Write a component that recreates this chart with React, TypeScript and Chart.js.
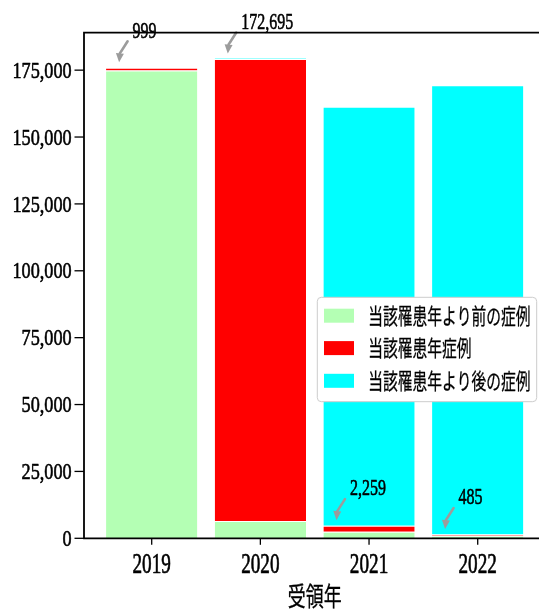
import React, { useEffect, useRef } from "react";
import { Chart, registerables } from "chart.js";

Chart.register(...registerables);

// ---- data ----
const YEARS = ["2019", "2020", "2021", "2022"];
const LABELS = ["当該罹患年より前の症例", "当該罹患年症例", "当該罹患年より後の症例"];
const BEFORE = [174900, 6465, 2466, 930];
const SAME = [999, 172695, 2259, 485];
const AFTER = [0, 300, 156560, 167985];
const Y_TICKS = [0, 25000, 50000, 75000, 100000, 125000, 150000, 175000];
const COLORS = ["rgb(180,255,180)", "#ff0000", "#00ffff"];
const X_TITLE = "受領年";

const SERIF = "'Liberation Serif', 'Times New Roman', serif";
const CJK = "'Noto Sans CJK JP', 'Noto Sans CJK SC', sans-serif";

function sText(
  ctx: CanvasRenderingContext2D,
  text: string,
  x: number,
  y: number,
  font: string,
  sx: number,
  align: CanvasTextAlign,
  baseline: CanvasTextBaseline,
  weight = 0
) {
  ctx.save();
  ctx.translate(x, y);
  ctx.scale(sx, 1);
  ctx.font = font;
  ctx.fillStyle = "#000";
  ctx.textAlign = align;
  ctx.textBaseline = baseline;
  ctx.fillText(text, 0, 0);
  if (weight > 0) {
    ctx.strokeStyle = "#000";
    ctx.lineWidth = weight;
    ctx.lineJoin = "round";
    ctx.strokeText(text, 0, 0);
  }
  ctx.restore();
}

const fmt = (v: number) => v.toLocaleString("en-US");

const overlay = {
  id: "overlay",
  afterDraw(chart: any) {
    const { ctx, chartArea: a, scales } = chart;
    const xs = scales.x;
    const ys = scales.y;
    ctx.save();

    // annotations
    const gray = "#9c9c9c";
    for (let i = 0; i < YEARS.length; i++) {
      const px = xs.getPixelForValue(i - 0.3);
      const py = ys.getPixelForValue(BEFORE[i] + SAME[i]) - 5.5;
      const tx = px + 8.5;
      const ty = py - 21;
      const cx = px + 1;
      const cy = py - 11;
      let dx = px - cx;
      let dy = py - cy;
      const len = Math.hypot(dx, dy);
      dx /= len;
      dy /= len;
      const hl = 9;
      const hw = 4;
      const bx = px - dx * hl;
      const by = py - dy * hl;
      ctx.strokeStyle = gray;
      ctx.fillStyle = gray;
      ctx.lineWidth = 2.6;
      ctx.lineCap = "round";
      ctx.beginPath();
      ctx.moveTo(tx, ty);
      ctx.quadraticCurveTo(cx, cy + 2, bx, by);
      ctx.stroke();
      ctx.beginPath();
      ctx.moveTo(px, py);
      ctx.lineTo(bx - dy * hw, by + dx * hw);
      ctx.lineTo(bx + dy * hw, by - dx * hw);
      ctx.closePath();
      ctx.fill();
      sText(ctx, fmt(SAME[i]), px + 13.5, py - 24.7, `22.5px ${SERIF}`, 0.71, "left", "alphabetic", 0.6);
    }

    // spines
    ctx.strokeStyle = "#000";
    ctx.lineWidth = 1.8;
    ctx.lineCap = "butt";
    ctx.beginPath();
    ctx.moveTo(a.right + 2, a.top);
    ctx.lineTo(a.left, a.top);
    ctx.lineTo(a.left, a.bottom);
    ctx.lineTo(a.right + 2, a.bottom);
    ctx.stroke();

    // y ticks
    for (const v of Y_TICKS) {
      const y = ys.getPixelForValue(v);
      ctx.strokeStyle = "#000";
      ctx.lineWidth = 1.3;
      ctx.beginPath();
      ctx.moveTo(a.left - 9.5, y);
      ctx.lineTo(a.left, y);
      ctx.stroke();
      sText(ctx, fmt(v), a.left - 12.3, y + 7.6, `22.5px ${SERIF}`, 0.81, "right", "alphabetic", 0.6);
    }

    // x ticks
    for (let i = 0; i < YEARS.length; i++) {
      const x = xs.getPixelForValue(i);
      ctx.strokeStyle = "#000";
      ctx.lineWidth = 1.3;
      ctx.beginPath();
      ctx.moveTo(x, a.bottom);
      ctx.lineTo(x, a.bottom + 6.5);
      ctx.stroke();
      sText(ctx, YEARS[i], x, a.bottom + 34.4, `28.7px ${SERIF}`, 0.67, "center", "alphabetic", 0.7);
    }

    // x title
    const mid = a.left + (xs.getPixelForValue(3.623) - a.left) / 2;
    sText(ctx, X_TITLE, mid, a.bottom + 58.2, `26px ${CJK}`, 0.69, "center", "middle", 0.3);

    // legend
    const lx = 317.3;
    const ly = 297.3;
    const lw = 219.4;
    const lh = 104.4;
    ctx.beginPath();
    ctx.roundRect(lx, ly, lw, lh, 4);
    ctx.fillStyle = "#ffffff";
    ctx.fill();
    ctx.strokeStyle = "#cccccc";
    ctx.lineWidth = 1;
    ctx.stroke();
    const rows = [315.7, 348.1, 380.8];
    for (let k = 0; k < LABELS.length; k++) {
      ctx.fillStyle = COLORS[k];
      ctx.fillRect(324, rows[k] - 7, 30, 14);
      sText(ctx, LABELS[k], 368.3, rows[k], `22px ${CJK}`, 0.67, "left", "middle", 0.3);
    }
    ctx.restore();
  },
};

export default function App() {
  const ref = useRef<HTMLCanvasElement | null>(null);

  useEffect(() => {
    if (!ref.current) return;
    const series = [BEFORE, SAME, AFTER];
    const chart = new Chart(ref.current, {
      type: "bar",
      data: {
        datasets: series.map((vals, k) => ({
          label: LABELS[k],
          data: vals.map((v, i) => ({ x: i, y: v })),
          backgroundColor: COLORS[k],
          borderColor: "#ffffff",
          borderWidth: { top: 1, right: 0, bottom: 0, left: 0 },
          borderSkipped: false,
          categoryPercentage: 0.84,
          barPercentage: 1,
        })),
      },
      options: {
        responsive: false,
        maintainAspectRatio: false,
        animation: false,
        layout: { padding: { left: 84, top: 32.7, right: 0, bottom: 71.7 } },
        plugins: {
          legend: { display: false },
          tooltip: { enabled: false },
        },
        scales: {
          x: {
            type: "linear",
            display: false,
            offset: false,
            stacked: true,
            min: -0.623,
            max: 3.564,
            afterBuildTicks: (scale: any) => {
              scale.ticks = YEARS.map((_, i) => ({ value: i }));
            },
          },
          y: {
            type: "linear",
            display: false,
            stacked: true,
            min: 0,
            max: 189000,
          },
        },
      },
      plugins: [overlay],
    } as any);
    return () => chart.destroy();
  }, []);

  return (
    <div style={{ position: "absolute", left: 0, top: 0, width: 539, height: 610, background: "#fff" }}>
      <canvas ref={ref} width={539} height={610} style={{ display: "block", width: 539, height: 610 }} />
    </div>
  );
}
